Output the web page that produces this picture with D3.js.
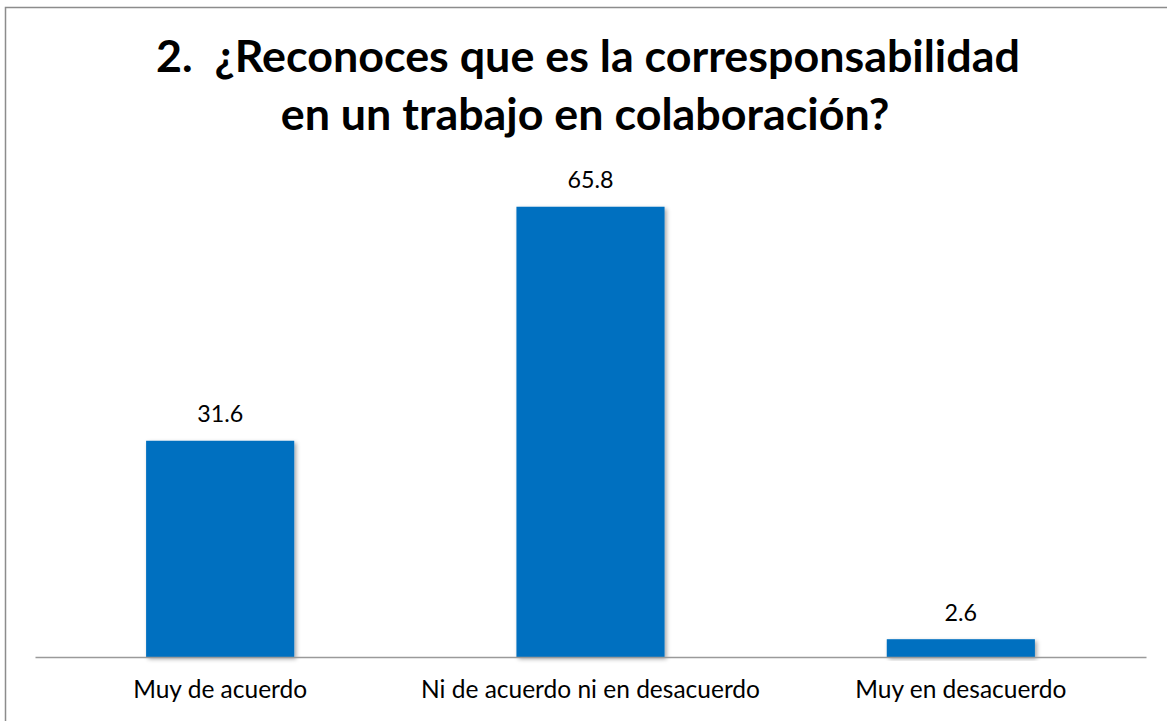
<!DOCTYPE html>
<html>
<head>
<meta charset="utf-8">
<script src="https://cdn.jsdelivr.net/npm/d3@7/dist/d3.min.js"></script>
<style>
  html, body { margin: 0; padding: 0; background: #fff; }
  svg { display: block; }
  text { white-space: pre; }
</style>
</head>
<body>
<svg id="chart" width="1167" height="721"></svg>
<script>
const categories = ["Muy de acuerdo", "Ni de acuerdo ni en desacuerdo", "Muy en desacuerdo"];
const values = [31.6, 65.8, 2.6];
const titleLines = ["2.  ¿Reconoces que es la corresponsabilidad", "en un trabajo en colaboración?"];
const yDomain = [0, 70];

const svg = d3.select("#chart");
const FONT = "Lato, 'Open Sans', 'Liberation Sans', sans-serif";

const defs = svg.append("defs");
const f = defs.append("filter").attr("id", "shadow").attr("x", "-10%").attr("y", "-10%").attr("width", "130%").attr("height", "130%");
f.append("feDropShadow").attr("dx", 2).attr("dy", 2).attr("stdDeviation", 2).attr("flood-color", "#000").attr("flood-opacity", 0.35);

// chart border
svg.append("rect")
  .attr("x", 5.5).attr("y", 7.5).attr("width", 1170).attr("height", 720)
  .attr("fill", "#fff").attr("stroke", "#8c8c8c").attr("stroke-width", 1.5);

const x = d3.scaleBand().domain(categories).range([35, 1146]).paddingInner(0.6).paddingOuter(0.3);
const y = d3.scaleLinear().domain(yDomain).range([657, 178]);

function fit(sel, target, base) {
  sel.attr("font-size", base);
  const w = sel.node().getComputedTextLength();
  return base * target / w;
}

// title
const tg = svg.append("g").attr("font-family", FONT).attr("font-weight", "bold").attr("fill", "#000").attr("text-anchor", "middle");
const t1 = tg.append("text").attr("x", 588).attr("y", 72).attr("xml:space", "preserve").text(titleLines[0]);
const tSize = fit(t1, 864, 40);
t1.attr("font-size", tSize);
tg.append("text").attr("x", 585).attr("y", 130).attr("font-size", tSize).text(titleLines[1]);

// bars
svg.append("g").selectAll("rect").data(values).join("rect")
  .attr("x", (d, i) => x(categories[i]))
  .attr("width", x.bandwidth())
  .attr("y", d => y(d))
  .attr("height", d => y(0) - y(d))
  .attr("fill", "#0070C0")
  .attr("filter", "url(#shadow)");

// axis
const axis = svg.append("g").attr("transform", `translate(0,${y(0)})`)
  .call(d3.axisBottom(x).tickSize(0).tickPadding(0));
axis.select(".domain").attr("stroke", "#9a9a9a").attr("stroke-width", 1.5);
axis.selectAll("text").remove();

// category labels
const cg = svg.append("g").attr("font-family", FONT).attr("fill", "#000").attr("text-anchor", "middle");
const probe = cg.append("text").text(categories[0]);
const cSize = fit(probe, 174, 22);
probe.remove();
cg.selectAll("text.cat").data(categories).join("text").attr("class", "cat")
  .attr("x", d => x(d) + x.bandwidth() / 2)
  .attr("y", 698)
  .attr("font-size", cSize)
  .text(d => d);

// value labels
const vg = svg.append("g").attr("font-family", FONT).attr("fill", "#000").attr("text-anchor", "middle");
const vprobe = vg.append("text").text("65.8");
const vSize = fit(vprobe, 46, 22);
vprobe.remove();
vg.selectAll("text").data(values).join("text")
  .attr("x", (d, i) => x(categories[i]) + x.bandwidth() / 2)
  .attr("y", d => y(d) - 18.5)
  .attr("font-size", vSize)
  .text(d => d.toFixed(1));
</script>
</body>
</html>
